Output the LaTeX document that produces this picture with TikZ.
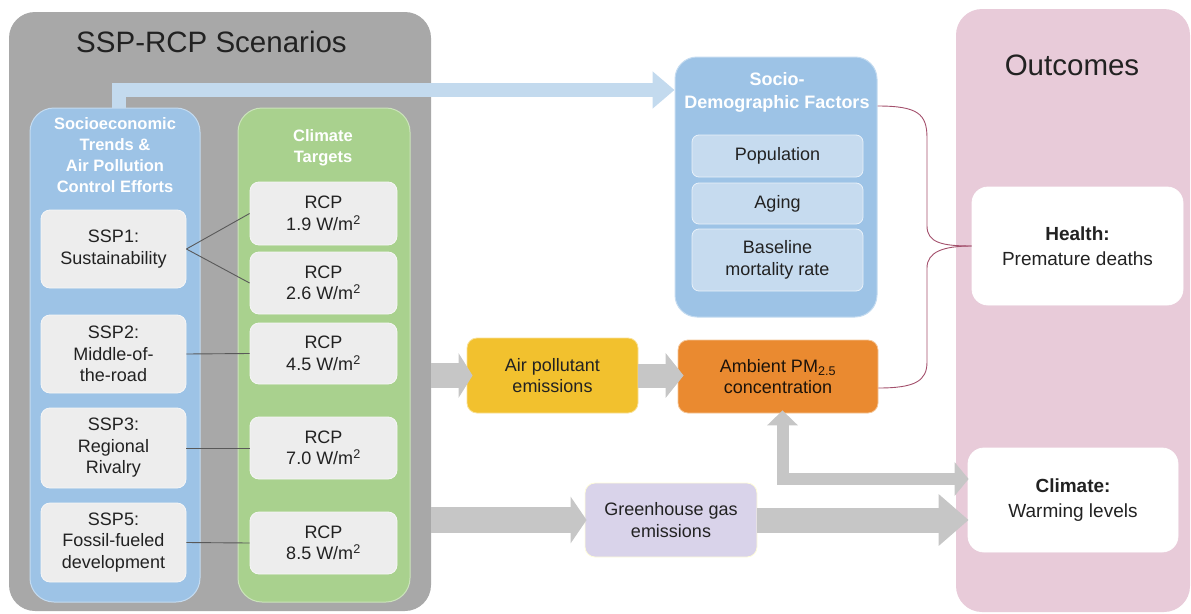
\documentclass[tikz,border=0pt]{standalone}
\usepackage{fontspec}
\setmainfont{Liberation Sans}
\usetikzlibrary{arrows.meta,calc}
\definecolor{scengray}{HTML}{A8A8A8}
\definecolor{sebl}{HTML}{9DC3E6}
\definecolor{segr}{HTML}{A9D18E}
\definecolor{inner}{HTML}{EDEDED}
\definecolor{sdin}{HTML}{C6DBEF}
\definecolor{yel}{HTML}{F2C12E}
\definecolor{ora}{HTML}{EA8A30}
\definecolor{lav}{HTML}{D9D3EA}
\definecolor{pnk}{HTML}{E8CBD9}
\definecolor{garr}{HTML}{C6C6C6}
\definecolor{barr}{HTML}{C3DAEE}
\definecolor{brc}{HTML}{A3506C}
\definecolor{txt}{HTML}{222222}
\newcommand{\bodyfont}{\fontsize{18}{21.5}\selectfont}
\begin{document}
\begin{tikzpicture}[x=1pt,y=-1pt,
  panel/.style={rounded corners=26pt, inner sep=0pt},
  tbox/.style={rounded corners=9pt, fill=inner, draw=white!50!inner, line width=0.8pt,
    align=center, inner sep=0pt, font=\bodyfont, text=txt},
  sdbox/.style={tbox, fill=sdin, draw=white!60!sdin, rounded corners=7pt},
  flowbox/.style={tbox, rounded corners=10pt},
  outbox/.style={tbox, fill=white, draw=white, rounded corners=16pt, font=\fontsize{19}{25}\selectfont},
  subttl/.style={align=center, text=white, font=\bfseries\fontsize{16.5}{21}\selectfont},
  bigttl/.style={font=\fontsize{29.5}{34}\selectfont, text=txt},
  link/.style={draw=black!65, line width=0.9pt},
  garrow/.style={draw=garr, line join=miter},
  brace/.style={draw=brc, line width=0.9pt}
]
\useasboundingbox (0,0) rectangle (1191,613);
% panels
\node[panel, fill=scengray, minimum width=422pt, minimum height=599pt] (scen) at (220,311.5) {};
\node[bigttl] (scenttl) at (211.5,42) {SSP-RCP Scenarios};
\node[panel, rounded corners=24pt, fill=sebl, draw=white!40!sebl, line width=1pt, minimum width=170pt, minimum height=494pt] (sebox) at (115,355) {};
\node[panel, rounded corners=24pt, fill=segr, draw=white!40!segr, line width=1pt, minimum width=172pt, minimum height=494pt] (clbox) at (324,355) {};
\node[subttl] (settl) at (115,155) {Socioeconomic\\Trends \&\\Air Pollution\\Control Efforts};
\node[subttl] (clttl) at (323,148) {Climate\\Targets};
\node[panel, fill=pnk, minimum width=234pt, minimum height=603pt] (outc) at (1073,310.5) {};
\node[bigttl] (outttl) at (1072,65) {Outcomes};
% SSP boxes
\node[tbox, minimum width=145pt, minimum height=78pt] (ssp1) at (113.5,249) {SSP1:\\Sustainability};
\node[tbox, minimum width=145pt, minimum height=78pt] (ssp2) at (113.5,354) {SSP2:\\Middle-of-\\the-road};
\node[tbox, minimum width=145pt, minimum height=80pt] (ssp3) at (113.5,448) {SSP3:\\Regional\\Rivalry};
\node[tbox, minimum width=145pt, minimum height=79pt] (ssp5) at (113.5,542.5) {SSP5:\\Fossil-fueled\\development};
% RCP boxes
\node[tbox, minimum width=147pt, minimum height=63pt] (r19) at (323.5,213.5) {RCP\\1.9 W/m\textsuperscript{2}};
\node[tbox, minimum width=147pt, minimum height=62pt] (r26) at (323.5,283) {RCP\\2.6 W/m\textsuperscript{2}};
\node[tbox, minimum width=147pt, minimum height=61pt] (r45) at (323.5,353.5) {RCP\\4.5 W/m\textsuperscript{2}};
\node[tbox, minimum width=147pt, minimum height=62pt] (r70) at (323.5,448) {RCP\\7.0 W/m\textsuperscript{2}};
\node[tbox, minimum width=147pt, minimum height=62pt] (r85) at (323.5,543) {RCP\\8.5 W/m\textsuperscript{2}};
\draw[link] (ssp1.east) -- (r19.west);
\draw[link] (ssp1.east) -- (r26.west);
\draw[link] (ssp2.east) -- (r45.west);
\draw[link] (ssp3.east) -- (r70.west);
\draw[link] (ssp5.east) -- (r85.west);
% socio-demographic
\node[panel, rounded corners=22pt, fill=sebl, draw=white!40!sebl, line width=1pt, minimum width=202pt, minimum height=260pt] (socdem) at (776,187) {};
\node[subttl, font=\bfseries\fontsize{18}{23}\selectfont] (sdttl) at (777,92) {Socio-\\Demographic Factors};
\node[sdbox, minimum width=171pt, minimum height=42pt] (pop) at (777.5,156) {Population};
\node[sdbox, minimum width=171pt, minimum height=41pt] (aging) at (777.5,203.5) {Aging};
\node[sdbox, minimum width=171pt, minimum height=62pt] (base) at (777.5,260) {Baseline\\mortality rate};
% flow boxes
\node[flowbox, fill=yel, draw=white!50!yel, minimum width=171pt, minimum height=75pt] (air) at (552.5,375.5) {Air pollutant\\emissions};
\node[flowbox, fill=ora, draw=white!50!ora, minimum width=200pt, minimum height=73pt, text=black!85!brown] (amb) at (778,376.5) {Ambient PM\textsubscript{2.5}\\concentration};
\node[flowbox, fill=lav, draw=yellow!15!white, minimum width=172pt, minimum height=74pt] (ghg) at (671,520) {Greenhouse gas\\emissions};
% outcomes
\node[outbox, minimum width=211pt, minimum height=118pt] (health) at (1077.5,246) {\textbf{Health:}\\Premature deaths};
\node[outbox, minimum width=210pt, minimum height=104pt] (clim) at (1073,500) {\textbf{Climate:}\\Warming levels};
% arrows
\draw[draw=barr, line width=14pt, line join=miter, -{Triangle[length=22pt,width=36pt]}, color=barr]
  ($(sebox.north)+(4,0)$) |- (socdem.west |- 0,90);
\draw[garrow, line width=25pt, -{Triangle[length=14pt,width=44pt]}, color=garr]
  (scen.east |- air.west) -- ($(air.west)+(6,0)$);
\draw[garrow, line width=24pt, -{Triangle[length=18pt,width=44pt]}, color=garr]
  (air.east) -- ($(amb.west |- air.east)+(6,0)$);
\draw[garrow, line width=26pt, -{Triangle[length=16pt,width=46pt]}, color=garr]
  (scen.east |- ghg.west) -- ($(ghg.west)+(2,0)$);
\draw[garrow, line width=25pt, -{Triangle[length=30pt,width=50pt]}, color=garr]
  (ghg.east) -- ($(clim.west |- ghg.east)+(1,0)$);
\draw[garrow, line width=12pt, {Triangle[length=15pt,width=30pt]}-{Triangle[length=14pt,width=33pt]}, color=garr]
  ($(amb.south)+(4.5,-3)$) |- ($(clim.west |- 0,479)+(1,0)$);
% brace
\draw[brace] (socdem.east |- 0,106) .. controls (918,106) and (927,114) .. (927,138)
  -- (927,226) .. controls (927,243) and (943,246) .. (health.west);
\draw[brace] (health.west) .. controls (943,246) and (927,252) .. (927,268)
  -- (927,362) .. controls (927,381) and (915,388) .. (amb.east |- 0,388);
\end{tikzpicture}
\end{document}
